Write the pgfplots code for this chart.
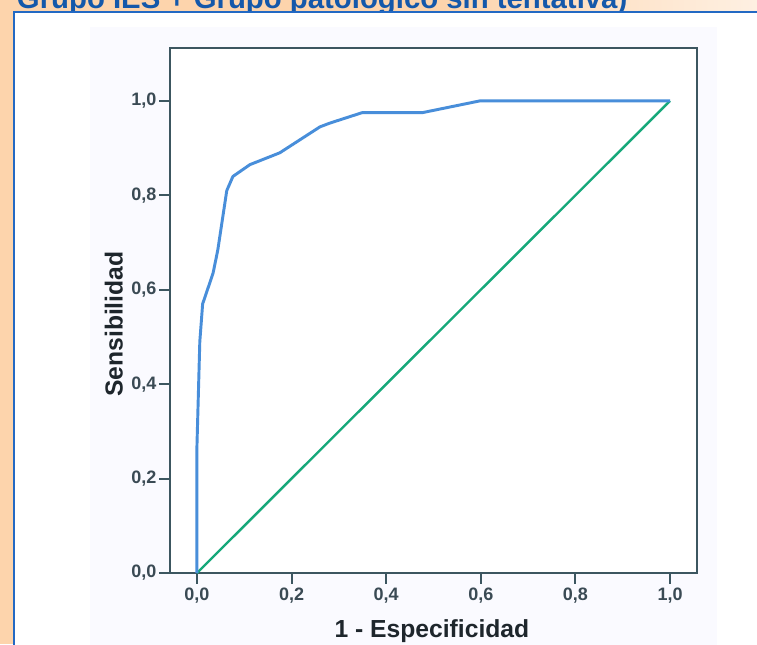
\documentclass[border=0pt]{standalone}
\usepackage{fontspec}
\setmainfont{Liberation Sans}
\usepackage{pgfplots}
\pgfplotsset{compat=1.18}
\definecolor{peach}{RGB}{253,212,172}
\definecolor{panelblue}{RGB}{35,105,195}
\definecolor{titleblue}{RGB}{20,88,170}
\definecolor{frame}{RGB}{60,86,96}
\definecolor{ticktext}{RGB}{58,74,84}
\definecolor{labeltext}{RGB}{30,38,44}
\definecolor{rocblue}{RGB}{72,142,218}
\definecolor{diag}{RGB}{22,168,122}
\begin{document}
\begin{tikzpicture}
\useasboundingbox (0,0) rectangle (567.75pt,-483pt);
\clip (0,0) rectangle (567.75pt,-483pt);
% page background and clipped heading
\fill[peach] (0,0) rectangle (567.75pt,-483pt);
\shade[left color=peach, right color=peach!35!white] (330pt,0) rectangle (567.75pt,-9pt);
\node[anchor=base west, inner sep=0, font=\bfseries\fontsize{22}{26}\selectfont, text=titleblue]
  at (12.5pt,-6pt) {Grupo IES + Grupo patológico sin tentativa)};
\fill[white] (10.5pt,-9pt) rectangle (580pt,-500pt);
\draw[panelblue, line width=1.5pt] (10.5pt,-9pt) rectangle (580pt,-500pt);
\fill[blue!2!white] (67.5pt,-20.25pt) rectangle (537.75pt,-490pt);

\begin{axis}[
    scale only axis,
    width=395.25pt, height=393.75pt,
    at={(127.5pt,-429.75pt)}, anchor=south west,
    xmin=-0.057, xmax=1.057,
    ymin=0, ymax=1.112,
    xtick={0,0.2,0.4,0.6,0.8,1},
    ytick={0,0.2,0.4,0.6,0.8,1},
    tick pos=left, tick align=outside,
    major tick length=8pt,
    axis background/.style={fill=white},
    axis line style={line width=1.8pt, color=frame},
    every tick/.style={line width=1.6pt, color=frame},
    tick label style={font=\bfseries\fontsize{13.5}{15}\selectfont, text=ticktext},
    yticklabel style={inner sep=2pt},
    /pgf/number format/use comma,
    /pgf/number format/fixed,
    /pgf/number format/fixed zerofill,
    /pgf/number format/precision=1,
    /pgf/number format/assume math mode=true,
    xlabel={1 - Especificidad},
    ylabel={Sensibilidad},
    label style={font=\bfseries\fontsize{18.5}{21}\selectfont, text=labeltext, inner sep=0},
    xlabel style={at={(axis description cs:0.497,-0.122)}, anchor=base},
    ylabel style={at={(axis description cs:-0.089,0.474)}, anchor=south},
    clip=false,
]
\addplot[color=diag, line width=1.8pt] coordinates {(0,0) (1,1)};
\addplot[color=rocblue, line width=2.2pt, line join=round] coordinates {
(0,0) (0,0.27) (0.006,0.49) (0.012,0.57) (0.034,0.635) (0.044,0.684)
(0.063,0.81) (0.076,0.84) (0.112,0.865) (0.175,0.89) (0.26,0.945)
(0.281,0.953) (0.349,0.975) (0.476,0.975) (0.598,1.0) (1,1)
};
\end{axis}
\end{tikzpicture}
\end{document}
